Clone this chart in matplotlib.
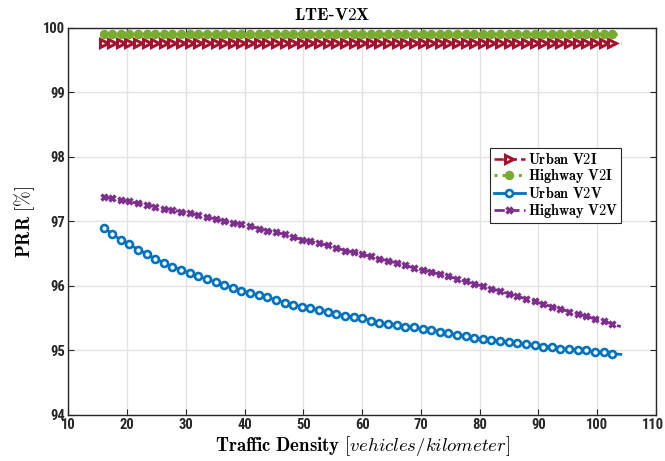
import matplotlib
matplotlib.use("Agg")
import matplotlib.pyplot as plt
import matplotlib.transforms as mtransforms
from matplotlib import font_manager

plt.rcParams['mathtext.fontset'] = 'cm'

# Traffic density samples (vehicles/km)
density = [16.00, 17.47, 18.93, 20.40, 21.87, 23.33, 24.80, 26.27, 27.73, 29.20,
           30.67, 32.13, 33.60, 35.07, 36.53, 38.00, 39.47, 40.93, 42.40, 43.87,
           45.33, 46.80, 48.27, 49.73, 51.20, 52.67, 54.13, 55.60, 57.07, 58.53,
           60.00, 61.47, 62.93, 64.40, 65.87, 67.33, 68.80, 70.27, 71.73, 73.20,
           74.67, 76.13, 77.60, 79.07, 80.53, 82.00, 83.47, 84.93, 86.40, 87.87,
           89.33, 90.80, 92.27, 93.73, 95.20, 96.67, 98.13, 99.60, 101.07, 102.53,
           104.00]

urban_v2i = [99.77, 99.77, 99.77, 99.77, 99.77, 99.77, 99.77, 99.77, 99.77, 99.77,
             99.77, 99.77, 99.77, 99.77, 99.77, 99.77, 99.77, 99.77, 99.77, 99.77,
             99.77, 99.77, 99.77, 99.77, 99.77, 99.77, 99.77, 99.77, 99.77, 99.77,
             99.77, 99.77, 99.77, 99.77, 99.77, 99.77, 99.77, 99.77, 99.77, 99.77,
             99.77, 99.77, 99.77, 99.77, 99.77, 99.77, 99.77, 99.77, 99.77, 99.77,
             99.77, 99.77, 99.77, 99.77, 99.77, 99.77, 99.77, 99.77, 99.77, 99.77,
             99.77]

highway_v2i = [99.90, 99.90, 99.90, 99.90, 99.90, 99.90, 99.90, 99.90, 99.90, 99.90,
               99.90, 99.90, 99.90, 99.90, 99.90, 99.90, 99.90, 99.90, 99.90, 99.90,
               99.90, 99.90, 99.90, 99.90, 99.90, 99.90, 99.90, 99.90, 99.90, 99.90,
               99.90, 99.90, 99.90, 99.90, 99.90, 99.90, 99.90, 99.90, 99.90, 99.90,
               99.90, 99.90, 99.90, 99.90, 99.90, 99.90, 99.90, 99.90, 99.90, 99.90,
               99.90, 99.90, 99.90, 99.90, 99.90, 99.90, 99.90, 99.90, 99.90, 99.90,
               99.90]

urban_v2v = [96.90, 96.81, 96.71, 96.65, 96.56, 96.50, 96.42, 96.36, 96.30, 96.25,
             96.20, 96.15, 96.11, 96.06, 96.02, 95.97, 95.93, 95.89, 95.86, 95.83,
             95.78, 95.74, 95.71, 95.68, 95.66, 95.63, 95.60, 95.57, 95.54, 95.52,
             95.50, 95.46, 95.43, 95.41, 95.39, 95.37, 95.36, 95.34, 95.32, 95.29,
             95.27, 95.24, 95.22, 95.20, 95.18, 95.17, 95.15, 95.13, 95.11, 95.10,
             95.08, 95.06, 95.05, 95.03, 95.02, 95.01, 95.00, 94.98, 94.97, 94.95,
             94.94]

highway_v2v = [97.38, 97.36, 97.33, 97.31, 97.28, 97.26, 97.23, 97.20, 97.18, 97.15,
               97.13, 97.10, 97.07, 97.04, 97.01, 96.98, 96.96, 96.93, 96.89, 96.86,
               96.83, 96.80, 96.76, 96.72, 96.69, 96.66, 96.63, 96.59, 96.55, 96.52,
               96.49, 96.46, 96.42, 96.39, 96.36, 96.32, 96.28, 96.25, 96.22, 96.18,
               96.15, 96.11, 96.07, 96.03, 96.00, 95.96, 95.92, 95.88, 95.84, 95.80,
               95.76, 95.72, 95.68, 95.65, 95.60, 95.57, 95.53, 95.49, 95.46, 95.41,
               95.37]

x_ticks = [10, 20, 30, 40, 50, 60, 70, 80, 90, 100, 110]
y_ticks = [94, 95, 96, 97, 98, 99, 100]

# pick a narrow sans font if one is installed
available = {f.name for f in font_manager.fontManager.ttflist}
tick_family = 'Liberation Sans'
tick_size = 9.2
for cand in ['Liberation Sans Narrow', 'Roboto Condensed', 'Open Sans Condensed',
             'DejaVu Sans Condensed', 'Nimbus Sans Narrow']:
    if cand in available:
        tick_family = cand
        tick_size = 10.5
        break

fig = plt.figure(figsize=(6.65, 4.61), dpi=100)
ax = fig.add_axes([0.1027, 0.0998, 0.8838, 0.8395])

mk = slice(0, len(density) - 1)

ax.plot(density, urban_v2i, linestyle='--', color='#A2142F', linewidth=1.8,
        marker='>', markersize=6.2, markerfacecolor='white', markeredgewidth=2.2,
        markevery=mk, label=r'$\mathbf{Urban\ V2I}$')
ax.plot(density, highway_v2i, linestyle=':', color='#77AC30', linewidth=2.2,
        marker='o', markersize=5.8, markerfacecolor='#77AC30', markeredgewidth=1,
        markevery=mk, label=r'$\mathbf{Highway\ V2I}$')
ax.plot(density, urban_v2v, linestyle='-', color='#0072BD', linewidth=2,
        marker='o', markersize=5, markerfacecolor='white', markeredgewidth=1.9,
        markevery=mk, label=r'$\mathbf{Urban\ V2V}$')
ax.plot(density, highway_v2v, linestyle='--', color='#7E2F8E', linewidth=2,
        marker='x', markersize=4, markeredgewidth=2.4,
        markevery=mk, label=r'$\mathbf{Highway\ V2V}$')

ax.set_xlim(10, 110)
ax.set_ylim(94, 100)
ax.set_xticks(x_ticks)
ax.set_yticks(y_ticks)
ax.set_xticklabels([str(v) for v in x_ticks])
ax.set_yticklabels([str(v) for v in y_ticks])
for lab in ax.get_xticklabels() + ax.get_yticklabels():
    lab.set_fontfamily([tick_family, 'DejaVu Sans'])
    lab.set_fontweight('bold')
    lab.set_fontsize(tick_size)

ax.tick_params(direction='in', top=True, right=True, length=4, width=0.8,
               colors='#262626', pad=2.5)

# keep the last x tick label inside the figure
last = ax.get_xticklabels()[-1]
last.set_transform(last.get_transform() +
                   mtransforms.ScaledTranslation(-2 / 72, 0, fig.dpi_scale_trans))

ax.grid(True, color='#E3E3E3', linewidth=1.0)
ax.set_axisbelow(True)
for s in ax.spines.values():
    s.set_color('#262626')
    s.set_linewidth(1.0)

ax.set_title(r'$\mathbf{LTE}$' + '-' + r'$\mathbf{V2X}$', fontsize=12.5, pad=6, x=0.449)
ax.set_xlabel(r'$\mathbf{Traffic\ Density}\ [vehicles/kilometer]$', fontsize=13.5, labelpad=1)
ax.set_ylabel(r'$\mathbf{PRR}\ [\%]$', fontsize=13.5, labelpad=4)

leg = ax.legend(loc='upper left', bbox_to_anchor=(0.7175, 0.69), fontsize=10.3,
                frameon=True, fancybox=False, framealpha=1, edgecolor='#262626',
                handlelength=2.2, handletextpad=0.2, borderpad=0.25,
                labelspacing=0.05, borderaxespad=0)
leg.get_frame().set_linewidth(0.8)

fig.savefig('out.png', dpi=100)
